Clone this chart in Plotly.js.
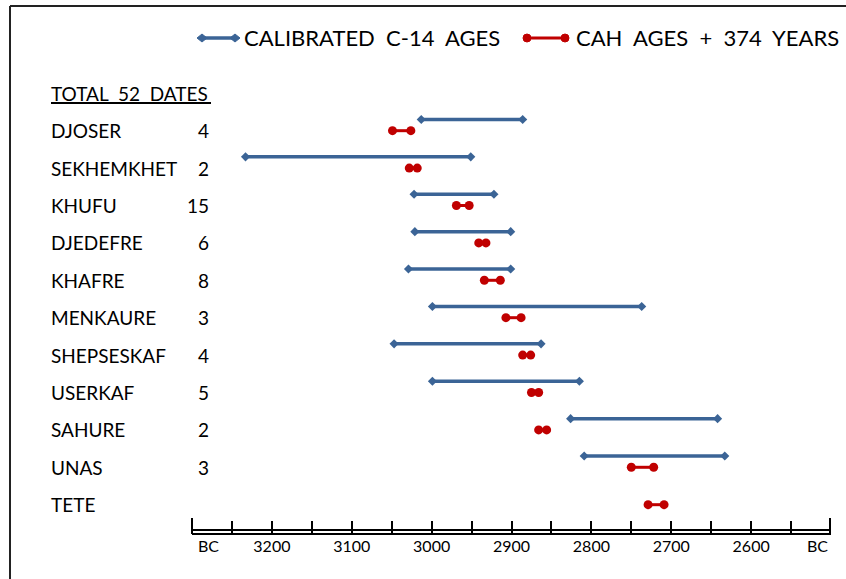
<!DOCTYPE html>
<html>
<head>
<meta charset="utf-8">
<script src="https://cdn.plot.ly/plotly-3.0.1.min.js"></script>
<style>html,body{margin:0;padding:0;background:#fff;}#chart{width:846px;height:579px;}</style>
</head>
<body>
<div id="chart"></div>
<script>
// ---- data ----
var kings = ['DJOSER','SEKHEMKHET','KHUFU','DJEDEFRE','KHAFRE','MENKAURE','SHEPSESKAF','USERKAF','SAHURE','UNAS','TETE'];
var dateCounts = ['4','2','15','6','8','3','4','5','2','3',''];
var c14Start = [3013, 3233, 3022, 3021, 3029, 2999, 3047, 2999, 2826, 2809, null];
var c14End   = [2886, 2951, 2922, 2901, 2901, 2737, 2863, 2815, 2642, 2633, null];
var cahStart = [3049, 3028, 2969, 2941, 2934, 2907, 2886, 2875, 2866, 2750, 2729];
var cahEnd   = [3026, 3018, 2953, 2932, 2914, 2888, 2876, 2866, 2856, 2722, 2709];
var tickVals = [3300,3250,3200,3150,3100,3050,3000,2950,2900,2850,2800,2750,2700,2650,2600,2550,2500];
var tickText = ['','','3200','','3100','','3000','','2900','','2800','','2700','','2600','',''];
var headerText = 'TOTAL\u00A0\u00A052\u00A0\u00A0DATES';
var legendC14 = 'CALIBRATED\u00A0\u00A0C-14\u00A0\u00A0AGES';
var legendCAH = 'CAH\u00A0\u00A0AGES\u00A0\u00A0+\u00A0\u00A0374\u00A0\u00A0YEARS';

// ---- layout geometry ----
var W = 846, H = 579;
var ML = 192, MR = 15, MT = 60, MB = 46;
var PW = W - ML - MR, PH = H - MT - MB;
function px(x){ return (x - ML) / PW; }
function py(y){ return (H - MB - y) / PH; }
var BLUE = '#3B6496', RED = '#C00000';
var FONT = 'Lato, "Open Sans", sans-serif';

// build segment traces
function segs(a, b, off){
  var xs = [], ys = [];
  for (var i = 0; i < kings.length; i++){
    if (a[i] == null) continue;
    xs.push(a[i], b[i], null);
    ys.push(i + 1 + off, i + 1 + off, null);
  }
  return {x: xs, y: ys};
}
var s1 = segs(c14Start, c14End, -0.3);
var s2 = segs(cahStart, cahEnd, 0);

var traces = [
  {type:'scatter', mode:'lines+markers', x:s1.x, y:s1.y, connectgaps:false,
   line:{color:BLUE, width:3.5}, marker:{symbol:'diamond', size:7, color:BLUE},
   name:'CALIBRATED C-14 AGES', hoverinfo:'x'},
  {type:'scatter', mode:'lines+markers', x:s2.x, y:s2.y, connectgaps:false,
   line:{color:RED, width:3}, marker:{symbol:'circle', size:9, color:RED},
   name:'CAH AGES + 374 YEARS', hoverinfo:'x'}
];

var annotations = [];
annotations.push({xref:'paper', yref:'y', x:px(49), y:0, xanchor:'left', yanchor:'middle',
  text:headerText, showarrow:false, font:{family:FONT, size:19, color:'#000'}});
for (var i = 0; i < kings.length; i++){
  annotations.push({xref:'paper', yref:'y', x:px(49), y:i+1, xanchor:'left', yanchor:'middle',
    text:kings[i], showarrow:false, font:{family:FONT, size:19, color:'#000'}});
  if (dateCounts[i]) annotations.push({xref:'paper', yref:'y', x:px(211), y:i+1, xanchor:'right', yanchor:'middle',
    text:dateCounts[i], showarrow:false, font:{family:FONT, size:19, color:'#000'}});
}
// BC labels at axis ends
annotations.push({xref:'paper', yref:'paper', x:px(208), y:py(545), xanchor:'center', yanchor:'middle',
  text:'BC', showarrow:false, font:{family:FONT, size:16, color:'#000'}});
annotations.push({xref:'paper', yref:'paper', x:px(817), y:py(545), xanchor:'center', yanchor:'middle',
  text:'BC', showarrow:false, font:{family:FONT, size:16, color:'#000'}});
// legend texts
annotations.push({xref:'paper', yref:'paper', x:px(242), y:py(38), xanchor:'left', yanchor:'middle',
  text:legendC14, showarrow:false, font:{family:FONT, size:22, color:'#000'}});
annotations.push({xref:'paper', yref:'paper', x:px(574), y:py(38), xanchor:'left', yanchor:'middle',
  text:legendCAH, showarrow:false, font:{family:FONT, size:22, color:'#000'}});

function pline(x0,y0,x1,y1,color,w){
  return {type:'line', xref:'paper', yref:'paper', x0:px(x0), y0:py(y0), x1:px(x1), y1:py(y1),
    line:{color:color, width:w}, layer:'above'};
}
function pmark(kind, x, y, color){
  var s = {xref:'paper', yref:'paper', xsizemode:'pixel', ysizemode:'pixel',
    xanchor:px(x), yanchor:py(y), fillcolor:color, line:{color:color, width:1}, layer:'above'};
  if (kind === 'circle'){ s.type='circle'; s.x0=-4; s.x1=4; s.y0=-4; s.y1=4; }
  else { s.type='path'; s.path='M -5 0 L 0 4 L 5 0 L 0 -4 Z'; }
  return s;
}
var shapes = [
  // outer frame (left and top)
  pline(10, 579, 10, 6, '#222', 2),
  pline(10, 6, 846, 6, '#222', 2),
  // header underline
  pline(51, 103, 211, 103, '#000', 2),
  // upper line of double axis
  pline(192, 530, 831, 530, '#000', 2),
  // taller end ticks
  pline(192, 518, 192, 534, '#000', 2),
  pline(830, 518, 830, 534, '#000', 2),
  // legend samples
  pline(202, 38, 235, 38, BLUE, 3.5),
  pmark('diamond', 202, 38, BLUE),
  pmark('diamond', 235, 38, BLUE),
  pline(527, 38, 565, 38, RED, 3),
  pmark('circle', 527, 38, RED),
  pmark('circle', 565, 38, RED)
];

var layout = {
  width:W, height:H,
  margin:{l:ML, r:MR, t:MT, b:MB, autoexpand:false},
  paper_bgcolor:'#fff', plot_bgcolor:'#fff',
  showlegend:false,
  font:{family:FONT, color:'#000'},
  xaxis:{range:[3300, 2500], showgrid:false, zeroline:false, showline:true, linecolor:'#000', linewidth:2,
    tickmode:'array', tickvals:tickVals, ticktext:tickText, ticks:'inside', ticklen:12, tickwidth:2, tickcolor:'#000',
    ticklabelstandoff:-2,
    tickfont:{family:FONT, size:16, color:'#000'}, fixedrange:true},
  yaxis:{range:[11.757, -0.89], visible:false, showgrid:false, zeroline:false, fixedrange:true},
  annotations:annotations,
  shapes:shapes
};
Plotly.newPlot('chart', traces, layout, {displayModeBar:false, staticPlot:true});
</script>
</body>
</html>
